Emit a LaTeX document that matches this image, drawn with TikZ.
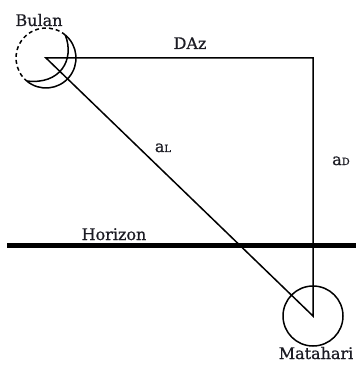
\documentclass[tikz,border=0pt]{standalone}
\usepackage{fontspec}
\setmainfont{DejaVu Serif}
\newfontfamily\lblfont[FakeBold=0.7]{DejaVu Serif}
\usepackage{xcolor}
\usepackage{tikz}
\definecolor{cink}{HTML}{1C1C24}
\tikzset{
  garis/.style={draw=black,line width=1.5pt},
  putus/.style={garis,dash pattern=on 4pt off 3pt},
  lbl/.style={text=cink,anchor=base,inner sep=0pt,font=\lblfont\fontsize{16}{19}\selectfont},
}
\newcommand{\sub}[1]{{\fontsize{10}{12}\selectfont #1}}

\begin{document}
\begin{tikzpicture}[x=1pt,y=-1pt]
\useasboundingbox (0,0) rectangle (360,366);

% ============ points ============
\coordinate (bulan) at (46,58);
\coordinate (sudut) at (313,58);
\coordinate (matahari) at (313,316);
\coordinate (horkiri) at (7,245.5);
\coordinate (horkanan) at (356,245.5);

% ============ triangle ============
\draw[garis,line join=miter] (bulan) -- (sudut) -- (matahari) -- cycle;
\draw[line width=5pt] (horkiri) -- (horkanan);

% ============ moon (crescent) ============
\path (bulan) ++(50:30pt) coordinate (tanduk1);
\path (bulan) ++(230:30pt) coordinate (tanduk2);
\draw[putus] (tanduk1) arc[start angle=50,end angle=230,radius=30pt];
\draw[garis] (tanduk1) arc[start angle=50,end angle=-130,radius=30pt];
\draw[garis] (tanduk1) .. controls (75,60) and (60,85) .. (tanduk2);

% ============ sun ============
\draw[garis] (matahari) circle[radius=30pt];

% ============ labels ============
\node[lbl] (tbulan) at (39,26) {Bulan};
\node[lbl] (tdaz) at (190,49) {DAz};
\node[lbl] (tal) at (163,152) {a\sub{L}};
\node[lbl] (tad) at (341,165) {a\sub{D}};
\node[lbl] (thorizon) at (114,240) {Horizon};
\node[lbl] (tmatahari) at (316,359) {Matahari};

\end{tikzpicture}
\end{document}
